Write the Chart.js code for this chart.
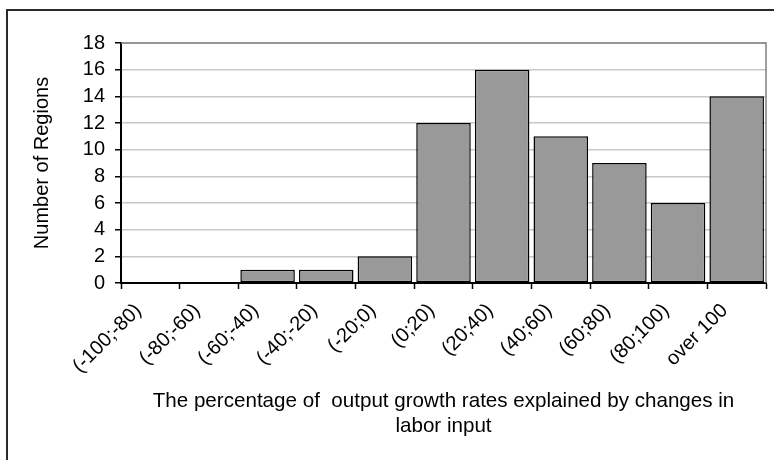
<!DOCTYPE html>
<html>
<head>
<meta charset="utf-8">
<script src="https://cdn.jsdelivr.net/npm/chart.js@4.4.0/dist/chart.umd.min.js"></script>
<style>
  html, body { margin: 0; padding: 0; background: #ffffff; }
  #wrap { width: 774px; height: 460px; }
</style>
</head>
<body>
<div id="wrap"><canvas id="c" width="774" height="460"></canvas></div>
<script>
// Distribution of regions by share of output growth explained by labor input
const categories = ['(-100;-80)', '(-80;-60)', '(-60;-40)', '(-40;-20)', '(-20;0)',
  '(0;20)', '(20;40)', '(40;60)', '(60;80)', '(80;100)', 'over 100'];
const regionCounts = [0, 0, 1, 1, 2, 12, 16, 11, 9, 6, 14];
const yTicks = [0, 2, 4, 6, 8, 10, 12, 14, 16, 18];
const yTitle = 'Number of Regions';
const xTitle = ['The percentage of  output growth rates explained by changes in', 'labor input'];

const FONT = "'Liberation Sans', Arial, sans-serif";

// Outer frame and the grey top/right edges of the plot area
const framePlugin = {
  id: 'frame',
  afterDraw(chart) {
    const ctx = chart.ctx;
    const a = chart.chartArea;
    ctx.save();
    ctx.strokeStyle = '#808080';
    ctx.lineWidth = 1.5;
    ctx.beginPath();
    ctx.moveTo(a.left, a.top);
    ctx.lineTo(a.right, a.top);
    ctx.lineTo(a.right, a.bottom);
    ctx.stroke();
    ctx.strokeStyle = '#2a2a2a';
    ctx.lineWidth = 2;
    ctx.strokeRect(7, 10, 900, 600);
    ctx.restore();
  }
};

new Chart(document.getElementById('c'), {
  type: 'bar',
  data: {
    labels: categories,
    datasets: [{
      data: regionCounts,
      backgroundColor: '#999999',
      borderColor: '#000000',
      borderWidth: 1.5,
      borderSkipped: false,
      barPercentage: 0.93,
      categoryPercentage: 1.0
    }]
  },
  options: {
    responsive: false,
    animation: false,
    devicePixelRatio: 1,
    layout: { padding: { left: 0, right: 8, top: 43, bottom: 0 } },
    plugins: { legend: { display: false }, tooltip: { enabled: false } },
    scales: {
      x: {
        offset: true,
        grid: {
          offset: true,
          drawOnChartArea: false,
          drawTicks: true,
          tickLength: 6,
          tickColor: '#000000',
          tickWidth: 1.5
        },
        border: { color: '#000000', width: 2 },
        ticks: {
          color: '#000000',
          font: { family: FONT, size: 20 },
          minRotation: 45,
          maxRotation: 45,
          padding: 10,
          labelOffset: -12,
          autoSkip: false
        },
        title: {
          display: true,
          text: xTitle,
          color: '#000000',
          font: { family: FONT, size: 20.6, lineHeight: '25px' },
          padding: { top: 0, bottom: 21 }
        },
        afterFit(scale) { scale.height = 177; }
      },
      y: {
        min: 0,
        max: 18,
        afterBuildTicks(scale) { scale.ticks = yTicks.map(v => ({ value: v })); },
        grid: {
          color: '#c8c8c8',
          lineWidth: 1.5,
          drawTicks: true,
          tickLength: 6,
          tickColor: '#000000',
          tickWidth: 1.5
        },
        border: { color: '#000000', width: 2 },
        ticks: {
          color: '#000000',
          font: { family: FONT, size: 20 },
          padding: 10,
          autoSkip: false
        },
        title: {
          display: true,
          text: yTitle,
          color: '#000000',
          font: { family: FONT, size: 20, lineHeight: '24px' },
          padding: { top: 30, bottom: 0 }
        },
        afterFit(scale) { scale.width = 121; }
      }
    }
  },
  plugins: [framePlugin]
});
</script>
</body>
</html>
